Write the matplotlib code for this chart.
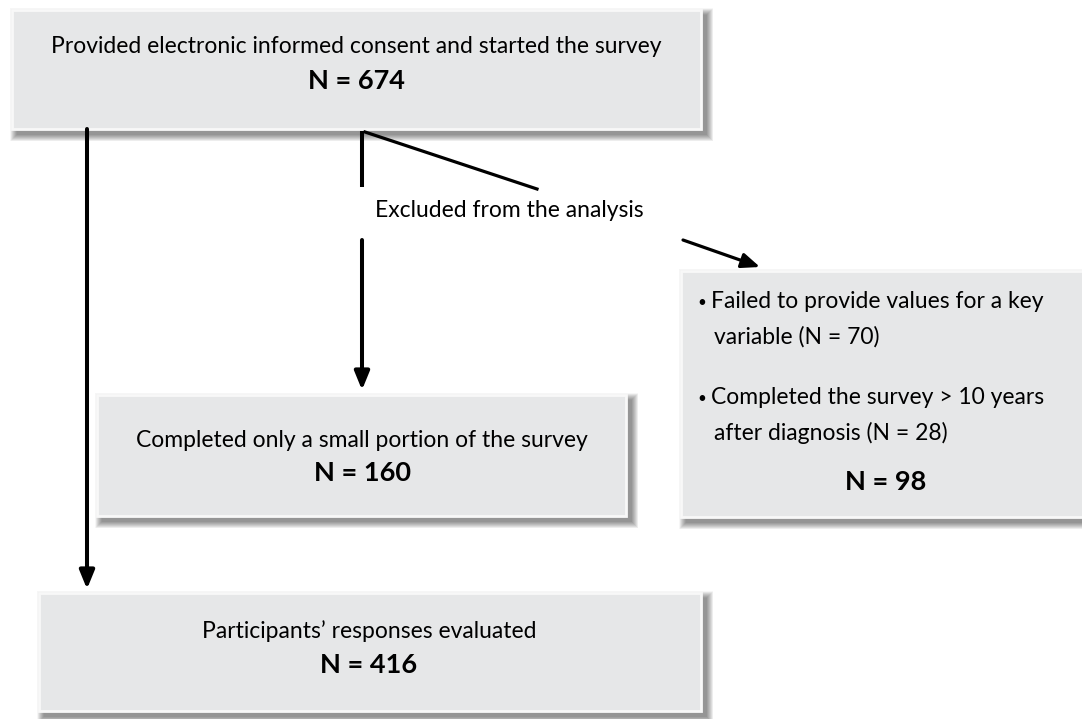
import matplotlib
matplotlib.use("Agg")
import matplotlib.pyplot as plt
from matplotlib.patches import Rectangle

# flowchart content
box_labels = [
    "Provided electronic informed consent and started the survey",
    "Completed only a small portion of the survey",
    "Participants\u2019 responses evaluated",
]
box_counts = [674, 160, 416]
excluded_label = "Excluded from the analysis"
exclusion_reasons = [
    "Failed to provide values for a key\nvariable",
    "Completed the survey > 10 years\nafter diagnosis",
]
exclusion_counts = [70, 28]
excluded_total = sum(exclusion_counts)

FONT = ["Lato", "DejaVu Sans"]
FILL = "#e6e7e8"
LW = 2.9
TXT = 16.5
NUM = 19.5

fig = plt.figure(figsize=(10.82, 7.19), dpi=100)
ax = fig.add_axes([0, 0, 1, 1])
ax.set_xlim(0, 1082)
ax.set_ylim(719, 0)
ax.axis("off")


def draw_box(x, y, w, h):
    # soft drop shadow, bottom-right
    for i in range(14):
        r = 14 - i
        ax.add_patch(Rectangle((x + 5 - r * 0.5, y + 5 - r * 0.5), w + r, h + r,
                               facecolor="black", edgecolor="none", alpha=0.035, zorder=1))
    ax.add_patch(Rectangle((x, y), w, h, facecolor=FILL, edgecolor="#f8f8f8",
                           linewidth=2, zorder=2))


def arrow(x0, y0, x1, y1, lw=LW):
    ax.annotate("", xy=(x1, y1), xytext=(x0, y0),
                arrowprops=dict(arrowstyle="-|>,head_length=1.1,head_width=0.45",
                                lw=lw, color="black", shrinkA=0, shrinkB=0), zorder=3)


def box_text(cx, y_label, y_n, label, n):
    ax.text(cx, y_label, label, ha="center", va="baseline", fontsize=TXT, family=FONT, zorder=4)
    ax.text(cx, y_n, f"N = {n}", ha="center", va="baseline", fontsize=NUM,
            fontweight="bold", family=FONT, zorder=4)


# boxes
draw_box(12, 10, 689, 119)
draw_box(97, 395, 529, 121)
draw_box(681, 271, 420, 246)
draw_box(39, 593, 662, 118)

box_text(356, 53, 89, box_labels[0], box_counts[0])
box_text(362, 447, 481, box_labels[1], box_counts[1])
box_text(369, 638, 673, box_labels[2], box_counts[2])

# exclusion box texts
for i, (reason, n) in enumerate(zip(exclusion_reasons, exclusion_counts)):
    first, second = reason.split("\n")
    y = 308 + i * 96
    ax.text(697, y - 1, "\u2022", ha="left", va="baseline", fontsize=11, family=FONT, zorder=4)
    ax.text(711, y, first, ha="left", va="baseline", fontsize=TXT, family=FONT, zorder=4)
    ax.text(714, y + 36, f"{second} (N = {n})", ha="left", va="baseline", fontsize=TXT,
            family=FONT, zorder=4)
ax.text(886, 490, f"N = {excluded_total}", ha="center", va="baseline", fontsize=NUM,
        fontweight="bold", family=FONT, zorder=4)

# connectors
arrow(87, 129, 87, 589)
ax.plot([362, 362], [131, 187], color="black", lw=LW, zorder=3, solid_capstyle="butt")
arrow(362, 240, 362, 390)
ax.plot([365, 537], [132, 189], color="black", lw=2.3, zorder=3)
arrow(683, 240, 760, 267, lw=2.3)
ax.text(375, 217, excluded_label, ha="left", va="baseline", fontsize=TXT, family=FONT, zorder=4)

fig.savefig("out.png", dpi=100, facecolor="white")
